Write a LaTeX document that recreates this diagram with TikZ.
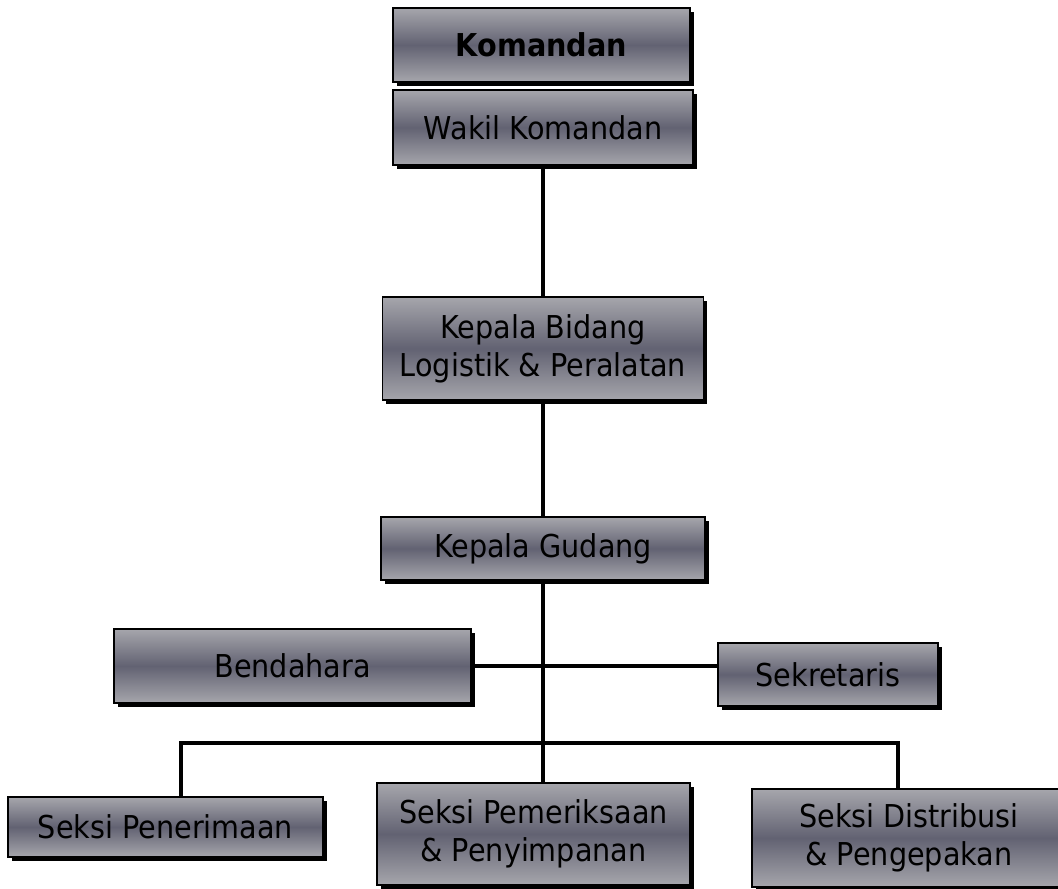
\documentclass[tikz,border=0pt]{standalone}
\usepackage{fontspec}
\setmainfont{DejaVu Sans}[FakeStretch=0.91]
\usepackage{tikz}
\usetikzlibrary{shadows}
\definecolor{boxlit}{RGB}{166,166,172}
\definecolor{boxdrk}{RGB}{98,98,114}

\begin{document}
\begin{tikzpicture}[x=1pt,y=-1pt,
  font=\fontsize{31.5}{38}\selectfont,
  unit/.style={draw=black,line width=1.4pt,align=center,inner sep=0pt,
    top color=boxlit,bottom color=boxlit,middle color=boxdrk,
    drop shadow={shadow xshift=3.5pt,shadow yshift=-3.5pt,fill=black,opacity=1}},
  link/.style={line width=3.5pt}]
\useasboundingbox (0,0) rectangle (1058,889);
% chain of command, top to bottom
\node[unit,minimum width=297pt,minimum height=74pt] (kmd) at (541.5,45) {\textbf{Komandan}};
\node[unit,minimum width=300pt,minimum height=75pt] (wakil) at (543,127.5) {Wakil Komandan};
\node[unit,minimum width=321pt,minimum height=103pt] (kabid) at (543,348.5) {Kepala Bidang\\Logistik \& Peralatan};
\node[unit,minimum width=324pt,minimum height=63pt] (kagud) at (543,548.5) {Kepala Gudang};
% staff beside the head of warehouse
\node[unit,minimum width=357pt,minimum height=74pt] (bend) at (292.5,666) {Bendahara};
\node[unit,minimum width=220pt,minimum height=63pt] (sekr) at (828,674.5) {Sekretaris};
% sections
\node[unit,minimum width=315pt,minimum height=60pt] (terima) at (165.5,827) {Seksi Penerimaan};
\node[unit,minimum width=313pt,minimum height=102pt] (periksa) at (533.5,834) {Seksi Pemeriksaan\\\& Penyimpanan};
\node[unit,minimum width=314pt,minimum height=98pt] (distr) at (909,838) {Seksi Distribusi\\\& Pengepakan};
\coordinate (busL) at (181,743);
\coordinate (busR) at (898,743);
\draw[link] (wakil.south) -- (kabid.north);
\draw[link] (kabid.south) -- (kagud.north);
\draw[link] (kagud.south) -- (kagud.south |- periksa.north);
\draw[link] (bend.east) -- (bend.east -| sekr.west);
\draw[link] (busL |- terima.north) -- (busL) -- (busR) -- (busR |- distr.north);
\end{tikzpicture}
\end{document}
